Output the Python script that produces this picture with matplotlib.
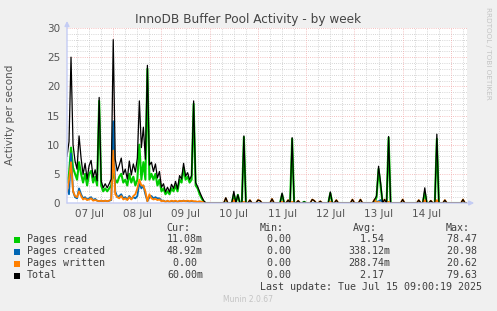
import matplotlib
matplotlib.use("Agg")
import matplotlib.pyplot as plt
import numpy as np

# ---- data (hourly samples, hour 1 = 07 Jul 01:00) ----
day_labels = ["07 Jul", "08 Jul", "09 Jul", "10 Jul", "11 Jul", "12 Jul", "13 Jul", "14 Jul"]
y_ticks = [0, 5, 10, 15, 20, 25, 30]

pages_read = [
    3.5, 5, 9.5, 6, 5, 4, 7, 5, 3.5, 5,
    3, 5, 5.5, 3.5, 4.5, 3, 17.5, 3, 2, 2.5,
    2, 2.5, 3, 5, 4, 3.5, 4.5, 5, 3.5, 4,
    3, 5, 3.5, 4.5, 3, 4, 10, 4, 7, 4,
    23, 4, 5, 4, 5, 3, 4, 2, 2.5, 1.5,
    2, 1.5, 2.5, 2, 3, 2, 4, 3.5, 6, 4,
    4.5, 3.5, 4, 17, 3, 2.5, 1.5, 0.8, 0.2, 0,
    0, 0, 0, 0, 0, 0, 0, 0, 0, 0.1,
    0, 0, 0, 1.5, 0, 1.4, 0, 0, 11.3, 0,
    0, 0, 0, 0, 0, 0, 0, 0, 0, 0,
    0, 0, 0, 0, 0, 0, 0, 1.5, 0, 0,
    0, 0, 11, 0, 0, 0, 0, 0, 0.2, 0,
    0, 0, 0, 0, 0, 0, 0, 0, 0, 0,
    0, 1.7, 0, 0, 0, 0, 0, 0, 0, 0,
    0, 0, 0, 0, 0, 0, 0, 0, 0, 0,
    0, 0, 0, 0, 1, 5.8, 3, 0, 0, 0,
    11.2, 0, 0, 0, 0, 0, 0, 0, 0, 0,
    0, 0, 0, 0, 0, 0, 0, 0, 1.8, 0,
    0, 0, 0, 0, 11, 0, 0, 0, 0, 0,
    0, 0, 0, 0, 0, 0, 0, 0, 0, 0,
]
pages_created = [
    2.5, 1.5, 8.5, 2, 1, 0.8, 2.5, 1.5, 0.8, 1,
    0.6, 0.8, 1, 0.5, 0.7, 0.4, 0.3, 0.4, 0.3, 0.4,
    0.3, 0.4, 0.5, 14, 2, 1, 1.2, 1.5, 0.8, 1,
    0.6, 1.2, 0.7, 1, 0.8, 1.2, 3.5, 2.5, 3, 1.5,
    0.3, 1, 1.2, 0.8, 1, 0.8, 0.8, 0.4, 0.4, 0.2,
    0.3, 0.2, 0.3, 0.2, 0.3, 0.2, 0.3, 0.3, 0.4, 0.3,
    0.3, 0.2, 0.3, 0.2, 0.2, 0.1, 0.1, 0.1, 0, 0,
    0, 0, 0, 0, 0, 0, 0, 0, 0, 0,
    0, 0, 0, 0, 0, 0, 0, 0, 0, 0,
    0, 0, 0, 0, 0, 0, 0, 0, 0, 0,
    0, 0, 0, 0, 0, 0, 0, 0, 0, 0,
    0, 0, 0, 0, 0, 0, 0, 0, 0, 0,
    0, 0, 0, 0, 0, 0, 0, 0, 0, 0,
    0, 0, 0, 0, 0, 0, 0, 0, 0, 0,
    0, 0, 0, 0, 0, 0, 0, 0, 0, 0,
    0, 0, 0, 0, 0.2, 0.3, 0.5, 0, 0, 0,
    0, 0, 0, 0, 0, 0, 0, 0, 0, 0,
    0, 0, 0, 0, 0, 0, 0, 0, 0.3, 0,
    0, 0, 0, 0, 0.3, 0, 0, 0, 0, 0,
    0, 0, 0, 0, 0, 0, 0, 0, 0, 0,
]
pages_written = [
    2, 4, 7, 2, 1.2, 1, 2, 1.2, 0.6, 0.8,
    0.5, 0.6, 0.8, 0.4, 0.5, 0.4, 0.3, 0.4, 0.3, 0.4,
    0.3, 0.4, 0.6, 9, 1.5, 1, 0.8, 1.2, 0.6, 0.8,
    0.5, 1, 0.6, 1.2, 1.5, 2.5, 4, 3, 3, 2,
    0.3, 1.5, 0.8, 0.6, 0.7, 0.5, 0.6, 0.3, 0.4, 0.2,
    0.4, 0.2, 0.4, 0.3, 0.4, 0.2, 0.4, 0.3, 0.4, 0.3,
    0.4, 0.3, 0.4, 0.3, 0.3, 0.2, 0.3, 0.2, 0.2, 0,
    0, 0, 0, 0, 0, 0, 0, 0, 0, 0.8,
    0, 0, 0, 0.5, 0, 0, 0, 0, 0.2, 0,
    0, 0.5, 0, 0, 0, 0.5, 0.4, 0, 0, 0,
    0, 0, 0.7, 0, 0, 0, 0, 0.2, 0, 0,
    0.5, 0, 0.2, 0, 0, 0.4, 0, 0, 0, 0,
    0, 0, 0.6, 0.4, 0, 0, 0.3, 0, 0, 0,
    0, 0.2, 0, 0, 0.5, 0, 0, 0, 0, 0,
    0, 0, 0.6, 0, 0, 0, 0.6, 0, 0, 0,
    0, 0, 0, 0.6, 0, 0.2, 0, 0, 0.6, 0,
    0.2, 0, 0, 0, 0, 0, 0, 0.6, 0, 0,
    0, 0, 0, 0, 0, 0.5, 0, 0, 0.5, 0,
    0, 0.4, 0, 0, 0.5, 0, 0, 0, 0.5, 0,
    0, 0, 0, 0, 0, 0, 0, 0.6, 0, 0,
]
hours = np.arange(1, len(pages_read) + 1)
total = np.array(pages_read) + np.array(pages_created) + np.array(pages_written)

legend_names = ["Pages read", "Pages created", "Pages written", "Total"]
legend_colors = ["#00CC00", "#0066B3", "#FF8000", "#000000"]
cur_vals = ["11.08m", "48.92m", "0.00 ", "60.00m"]
min_vals = ["0.00 ", "0.00 ", "0.00 ", "0.00 "]
avg_vals = ["1.54 ", "338.12m", "288.74m", "2.17 "]
max_vals = ["78.47 ", "20.98 ", "20.62 ", "79.63 "]

W, H = 497, 311
def fx(x):
    return x / W
def fy(y):
    return 1 - y / H

fig = plt.figure(figsize=(W / 100, H / 100), dpi=100, facecolor="#F0F0F0")
ax = fig.add_axes([fx(67), fy(203), 400 / W, 175 / H])
ax.set_facecolor("white")
ax.set_xlim(1, 200)
ax.set_ylim(0, 30)

# grid
dots = (0, (1, 1.6))
for h in range(6, 201, 6):
    if h % 24 == 0:
        ax.axvline(h, color="#F2ACAC", lw=0.6, ls=dots, zorder=1)
    else:
        ax.axvline(h, color="#C8C8C8", lw=0.6, ls=dots, zorder=0.9)
for v in range(1, 31):
    if v % 5 == 0:
        ax.axhline(v, color="#F2ACAC", lw=0.6, ls=dots, zorder=1)
    else:
        ax.axhline(v, color="#C8C8C8", lw=0.6, ls=dots, zorder=0.9)

ax.plot(hours, pages_read, color=legend_colors[0], lw=1.5, zorder=3)
ax.plot(hours, pages_created, color=legend_colors[1], lw=1.3, zorder=4)
ax.plot(hours, pages_written, color=legend_colors[2], lw=1.3, zorder=5)
ax.plot(hours, total, color=legend_colors[3], lw=0.9, zorder=6)

for s in ax.spines.values():
    s.set_visible(False)
axis_col = "#C4CCF4"
ax.annotate("", xy=(1.018, 0), xytext=(0, 0), xycoords="axes fraction",
            arrowprops=dict(arrowstyle="-|>", color=axis_col, lw=1, mutation_scale=7,
                            shrinkA=0, shrinkB=0), annotation_clip=False, zorder=7)
ax.annotate("", xy=(0, 1.04), xytext=(0, 0), xycoords="axes fraction",
            arrowprops=dict(arrowstyle="-|>", color=axis_col, lw=1, mutation_scale=7,
                            shrinkA=0, shrinkB=0), annotation_clip=False, zorder=7)

ax.set_yticks(y_ticks)
ax.set_yticklabels([str(v) for v in y_ticks])
ax.set_xticks([12 + 24 * i for i in range(len(day_labels))])
ax.set_xticklabels(day_labels)
ax.tick_params(axis="both", length=0, labelsize=7.5, labelcolor="#555555")
ax.tick_params(axis="y", pad=5)
ax.tick_params(axis="x", pad=4)

fig.text(fx(248), fy(19), "InnoDB Buffer Pool Activity - by week", ha="center", va="center",
         fontsize=8.7, color="#444444")
fig.text(fx(10), fy(115), "Activity per second", ha="center", va="center", rotation=90,
         fontsize=7.5, color="#555555")
fig.text(fx(488), fy(53), "RRDTOOL / TOBI OETIKER", ha="center", va="center", rotation=270,
         fontsize=5.2, color="#C4C4C4")

mono = "DejaVu Sans Mono"
fs = 7.2
tc = "#404040"
fig.text(fx(190), fy(228), "Cur:", ha="right", va="center", family=mono, fontsize=fs, color=tc)
fig.text(fx(284), fy(228), "Min:", ha="right", va="center", family=mono, fontsize=fs, color=tc)
fig.text(fx(377), fy(228), "Avg:", ha="right", va="center", family=mono, fontsize=fs, color=tc)
fig.text(fx(470), fy(228), "Max:", ha="right", va="center", family=mono, fontsize=fs, color=tc)
rows_y = [239.5, 251.5, 263.5, 275.5]
for i, name in enumerate(legend_names):
    y = rows_y[i]
    fig.patches.append(plt.Rectangle((fx(14), fy(y + 3)), 6 / W, 6 / H, transform=fig.transFigure,
                                     facecolor=legend_colors[i], edgecolor="none"))
    fig.text(fx(27), fy(y), name, ha="left", va="center", family=mono, fontsize=fs, color=tc)
    fig.text(fx(203), fy(y), cur_vals[i], ha="right", va="center", family=mono, fontsize=fs, color=tc)
    fig.text(fx(297), fy(y), min_vals[i], ha="right", va="center", family=mono, fontsize=fs, color=tc)
    fig.text(fx(390), fy(y), avg_vals[i], ha="right", va="center", family=mono, fontsize=fs, color=tc)
    fig.text(fx(483), fy(y), max_vals[i], ha="right", va="center", family=mono, fontsize=fs, color=tc)
fig.text(fx(482), fy(287.5), "Last update: Tue Jul 15 09:00:19 2025", ha="right", va="center",
         family=mono, fontsize=fs, color=tc)
fig.text(fx(248), fy(300), "Munin 2.0.67", ha="center", va="center", fontsize=5.5, color="#C4C4C4")

fig.savefig("out.png", dpi=100, facecolor=fig.get_facecolor())
